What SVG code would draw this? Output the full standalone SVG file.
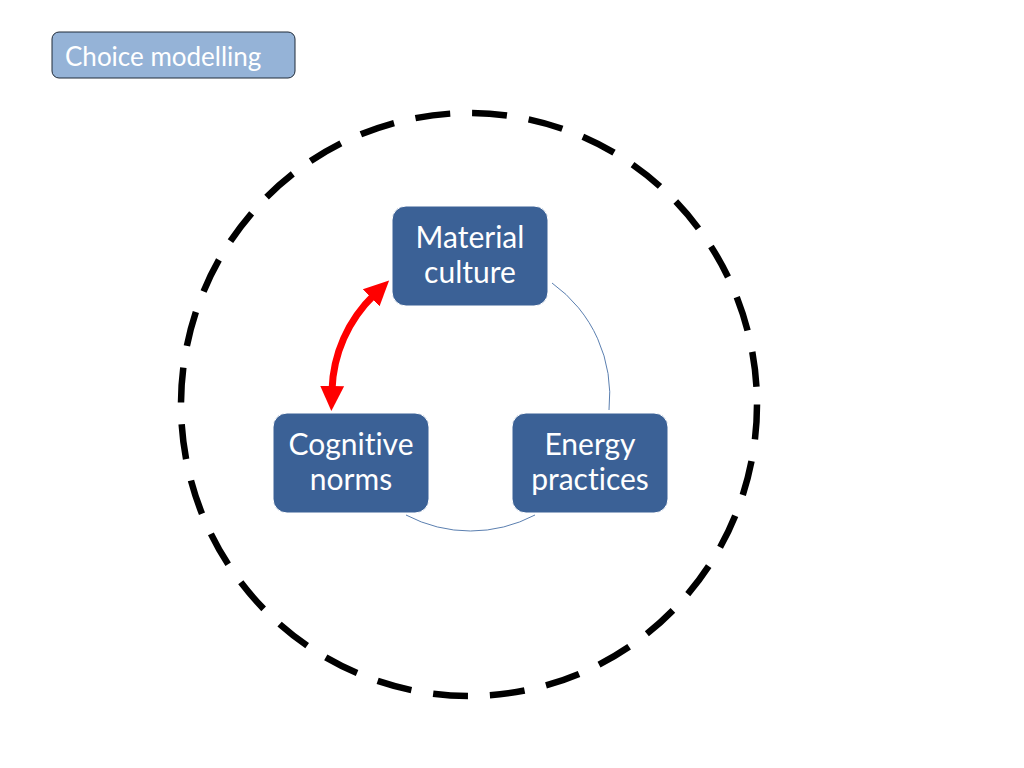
<svg xmlns="http://www.w3.org/2000/svg" width="1024" height="768" viewBox="0 0 1024 768">
<style>
text{font-variant-ligatures:none}
.node rect{fill:#3b6196;stroke:#ffffff;stroke-width:1}
.node text{fill:#ffffff;font-family:Lato,"Liberation Sans",sans-serif;font-size:30px;text-anchor:middle}
.link{fill:none;stroke:#5b7fb0;stroke-width:1}
</style>
<defs>
<marker id="ah" markerUnits="userSpaceOnUse" markerWidth="26" markerHeight="26" viewBox="0 0 26 26" refX="4" refY="13" orient="auto-start-reverse">
<path d="M0,1 L25,13 L0,25 z" fill="#ff0000"/>
</marker>
</defs>
<rect width="1024" height="768" fill="#ffffff"/>
<g id="label">
<rect x="52" y="32" width="243" height="46" rx="7" fill="#95b3d7" stroke="#1f2a38" stroke-width="1"/>
<text x="65" y="66" fill="#ffffff" font-family="Lato,'Liberation Sans',sans-serif" font-size="26">Choice modelling</text>
</g>
<g id="boundary">
<ellipse cx="469" cy="404.5" rx="288" ry="291.5" fill="none" stroke="#000000" stroke-width="6.5" stroke-dasharray="35 22"/>
</g>
<g id="connectors">
<path class="link" d="M552,283 A138,138 0 0 1 609,410"/>
<path class="link" d="M535,515 A138,138 0 0 1 406,515"/>
<path d="M374,295 A138,138 0 0 0 332,390" fill="none" stroke="#ff0000" stroke-width="7" marker-start="url(#ah)" marker-end="url(#ah)"/>
</g>
<g id="material" class="node">
<rect x="392" y="206" width="156" height="100" rx="14"/>
<text x="470" y="248">Material</text>
<text x="470" y="283">culture</text>
</g>
<g id="cognitive" class="node">
<rect x="273" y="413" width="156" height="100" rx="14"/>
<text x="351" y="455">Cognitive</text>
<text x="351" y="490">norms</text>
</g>
<g id="energy" class="node">
<rect x="512" y="413" width="156" height="100" rx="14"/>
<text x="590" y="455">Energy</text>
<text x="590" y="490">practices</text>
</g>
</svg>
